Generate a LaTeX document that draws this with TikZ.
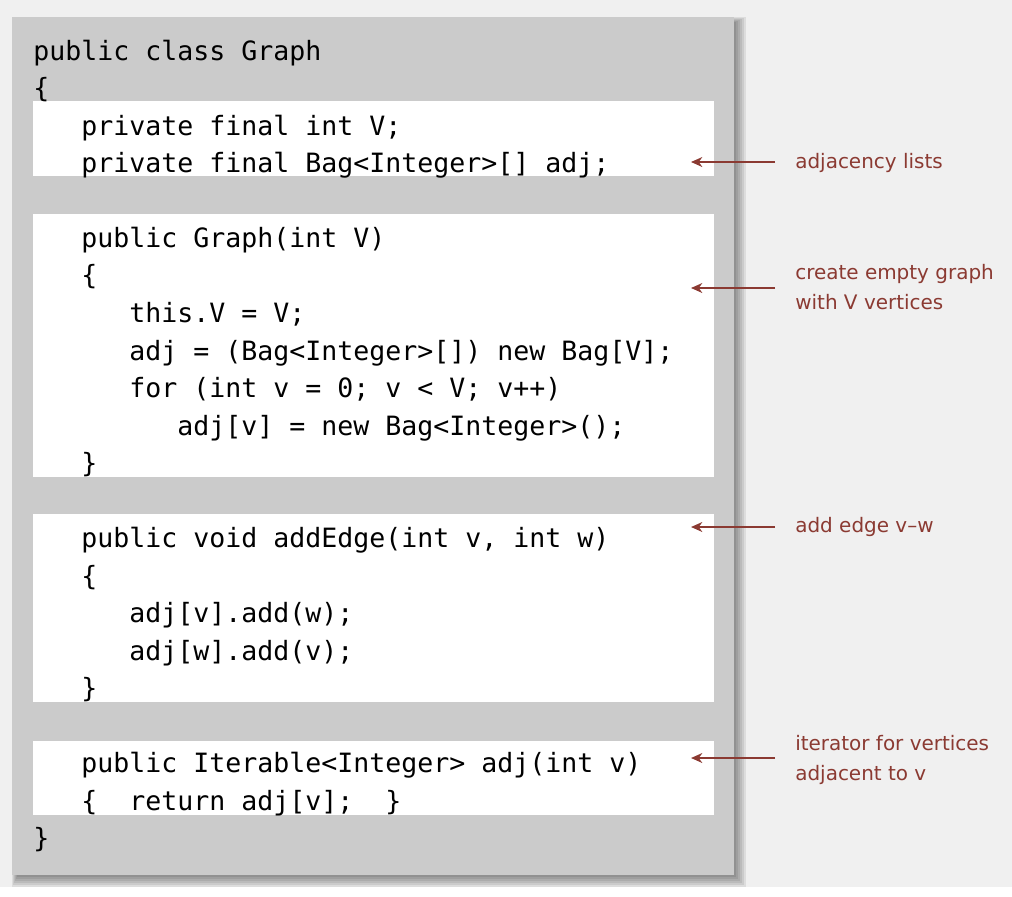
\documentclass[tikz,border=0pt]{standalone}
\usepackage{fontspec}
\usepackage{tikz}
\usetikzlibrary{arrows.meta, positioning}
\newfontfamily\codefont{DejaVu Sans Mono}
\newfontfamily\notefont{DejaVu Sans}
\definecolor{pagegray}{RGB}{240, 240, 240}
\definecolor{panelgray}{RGB}{203, 203, 203}
\definecolor{notered}{RGB}{139, 58, 50}

\begin{document}
\begin{tikzpicture}[
    x=0.025cm, y=-0.025cm,
    code/.style={anchor=base west, inner sep=0pt, align=left, font=\fontsize{18.9}{26.67}\selectfont\codefont},
    note/.style={anchor=base west, inner sep=0pt, align=left, text=notered, font=\fontsize{14.2}{21}\selectfont\notefont},
    arrow/.style={-{Stealth[length=8pt, width=7pt, inset=2.5pt]}, line width=1.6pt, notered},
    codebox/.style={fill=white}
]
    % Page and panel (nodes sit on the baseline of their last line)
    \useasboundingbox (0,0) rectangle (1012,896);
    \fill[white] (0,0) rectangle (1012,896);
    \fill[pagegray] (0,0) rectangle (1012,887);
    \foreach \s in {1,...,6}
        \fill[black, opacity=0.08] (18-\s,23-\s) rectangle (734+2*\s,875+2*\s);
    \fill[panelgray] (12,17) rectangle (734,875);

    % White boxes
    \fill[codebox] (33,101) rectangle (714,176);
    \fill[codebox] (33,214) rectangle (714,477);
    \fill[codebox] (33,514) rectangle (714,702);
    \fill[codebox] (33,741) rectangle (714,815);

    % Code
    \node[code] (head) at (33,97.5) {public class Graph\\\{};
    \node[code] (fields) at (81,172.5) {private final int V;\\private final Bag<Integer>[] adj;};
    \node[code] (ctor) at (81,472.5) {public Graph(int V)\\\{\\~~~this.V = V;\\~~~adj = (Bag<Integer>[]) new Bag[V];\\~~~for (int v = 0; v < V; v++)\\~~~~~~adj[v] = new Bag<Integer>();\\\}};
    \node[code] (addedge) at (81,697.5) {public void addEdge(int v, int w)\\\{\\~~~adj[v].add(w);\\~~~adj[w].add(v);\\\}};
    \node[code] (iter) at (81,810) {public Iterable<Integer> adj(int v)\\\{~~return adj[v];~~\}};
    \node[code] (tail) at (33,847.5) {\}};

    % Notes
    \node[note] (adjnote) at (795,168) {adjacency lists};
    \node[note] (ctornote) at (795,309) {create empty graph\\with V vertices};
    \node[note] (edgenote) at (795,532) {add edge v–w};
    \node[note] (iternote) at (795,780) {iterator for vertices\\adjacent to v};

    % Arrows
    \coordinate (adjtail) at (775,162);
    \coordinate (adjhead) at (691,162);
    \coordinate (ctortail) at (775,288);
    \coordinate (ctorhead) at (691,288);
    \coordinate (edgetail) at (775,527);
    \coordinate (edgehead) at (691,527);
    \coordinate (itertail) at (775,758);
    \coordinate (iterhead) at (691,758);
    \draw[arrow] (adjtail) -- (adjhead);
    \draw[arrow] (ctortail) -- (ctorhead);
    \draw[arrow] (edgetail) -- (edgehead);
    \draw[arrow] (itertail) -- (iterhead);
\end{tikzpicture}
\end{document}
